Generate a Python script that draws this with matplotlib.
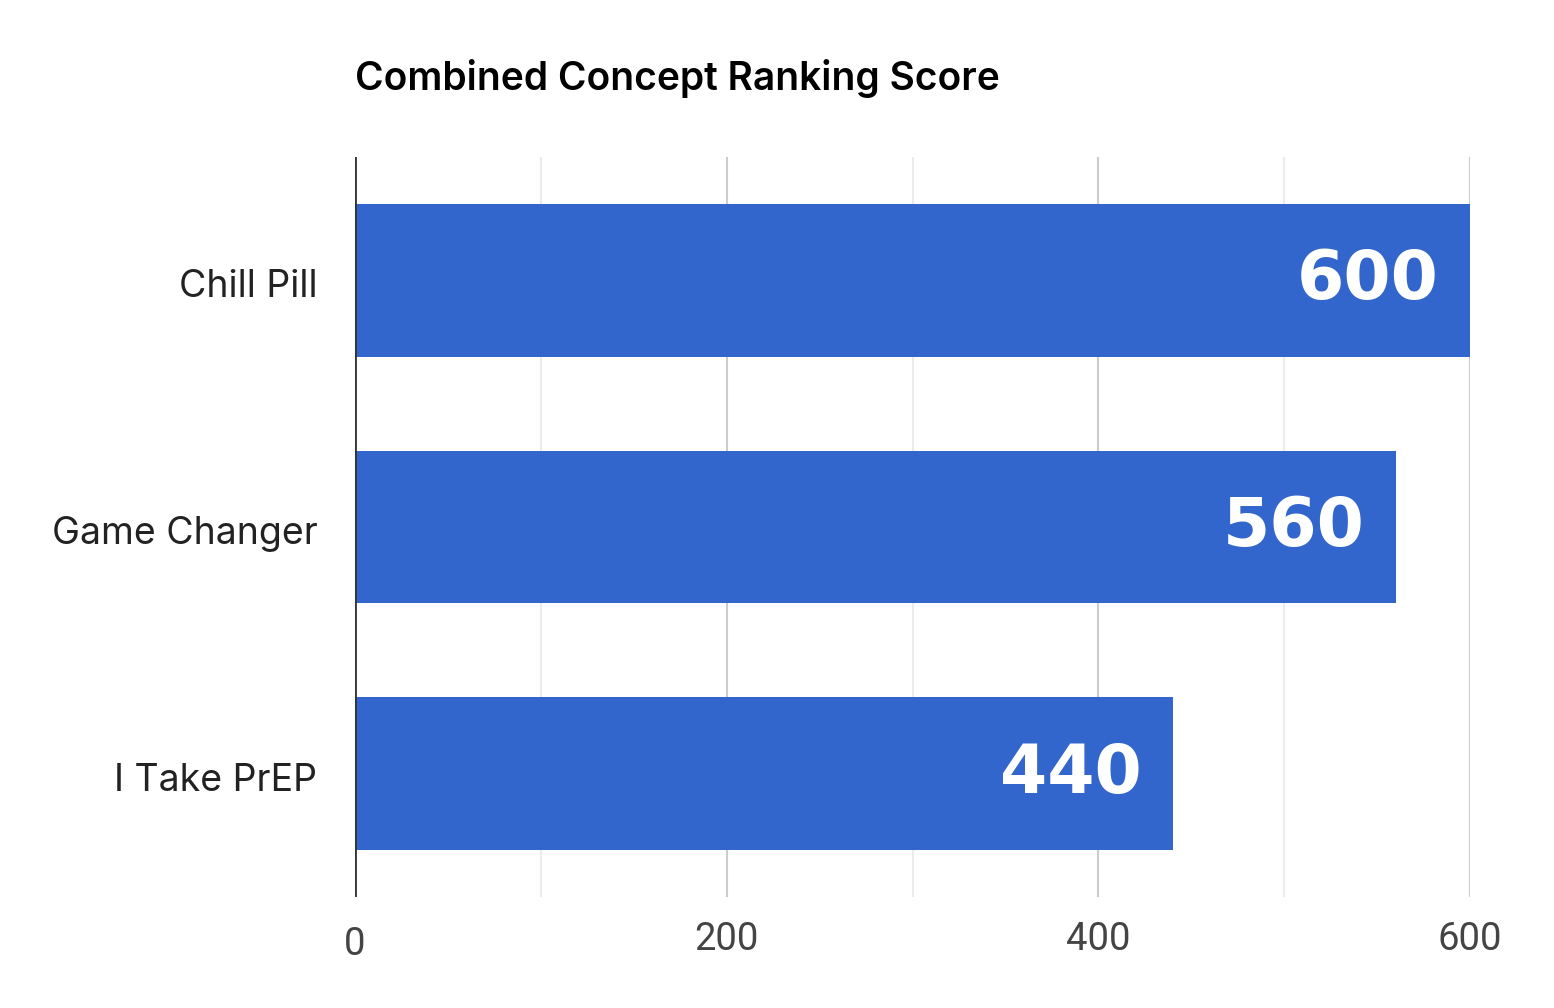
import matplotlib
matplotlib.use("Agg")
import matplotlib.pyplot as plt
import matplotlib.transforms as mtrans

categories = ["Chill Pill", "Game Changer", "I Take PrEP"]
values = [600, 560, 440]
xticks = [0, 200, 400, 600]
xtick_labels = ["0", "200", "400", "600"]
minor_grid = [100, 300, 500]

bar_color = "#3366CC"

fig = plt.figure(figsize=(15.54, 10.08), dpi=100)
ax = fig.add_axes([355/1554, 1-897/1008, (1470-355)/1554, (897-157)/1008])

ypos = list(range(len(categories)))
ax.barh(ypos, values, height=0.62, color=bar_color, zorder=3)
ax.set_ylim(2.5, -0.5)
ax.set_xlim(0, 600)

# gridlines
for x in minor_grid:
    ax.axvline(x, color="#ebebeb", lw=1.5, zorder=1)
for x in xticks[1:]:
    ax.axvline(x, color="#cccccc", lw=1.5, zorder=1)
ax.axvline(0, color="#333333", lw=2, zorder=4)

for s in ax.spines.values():
    s.set_visible(False)

ax.set_yticks(ypos)
ax.set_yticklabels(categories, fontsize=27, color="#222222", family="Inter")
ax.tick_params(axis="y", length=0, pad=27)
for t in ax.get_yticklabels():
    t.set_transform(t.get_transform() + mtrans.ScaledTranslation(0, -3/100, fig.dpi_scale_trans))
ax.set_xticks(xticks)
ax.set_xticklabels(xtick_labels, fontsize=27.5, color="#444444", family="Roboto")
ax.tick_params(axis="x", length=0, pad=17)
# the "0" label sits slightly lower in the reference
lbl0 = ax.get_xticklabels()[0]
lbl0.set_transform(lbl0.get_transform() + mtrans.ScaledTranslation(0, -5/100, fig.dpi_scale_trans))

for y, v in zip(ypos, values):
    ax.annotate(str(v), xy=(v, y), xytext=(-31, 0), textcoords="offset pixels",
                ha="right", va="center", color="white", fontsize=49,
                fontweight="bold", family="DejaVu Sans", zorder=5)

fig.text(355/1554, 1-78/1008, "Combined Concept Ranking Score", fontsize=28,
         fontweight="semibold", family="Inter", color="#000000", ha="left", va="center")

fig.savefig("out.png", dpi=100, facecolor="white")
